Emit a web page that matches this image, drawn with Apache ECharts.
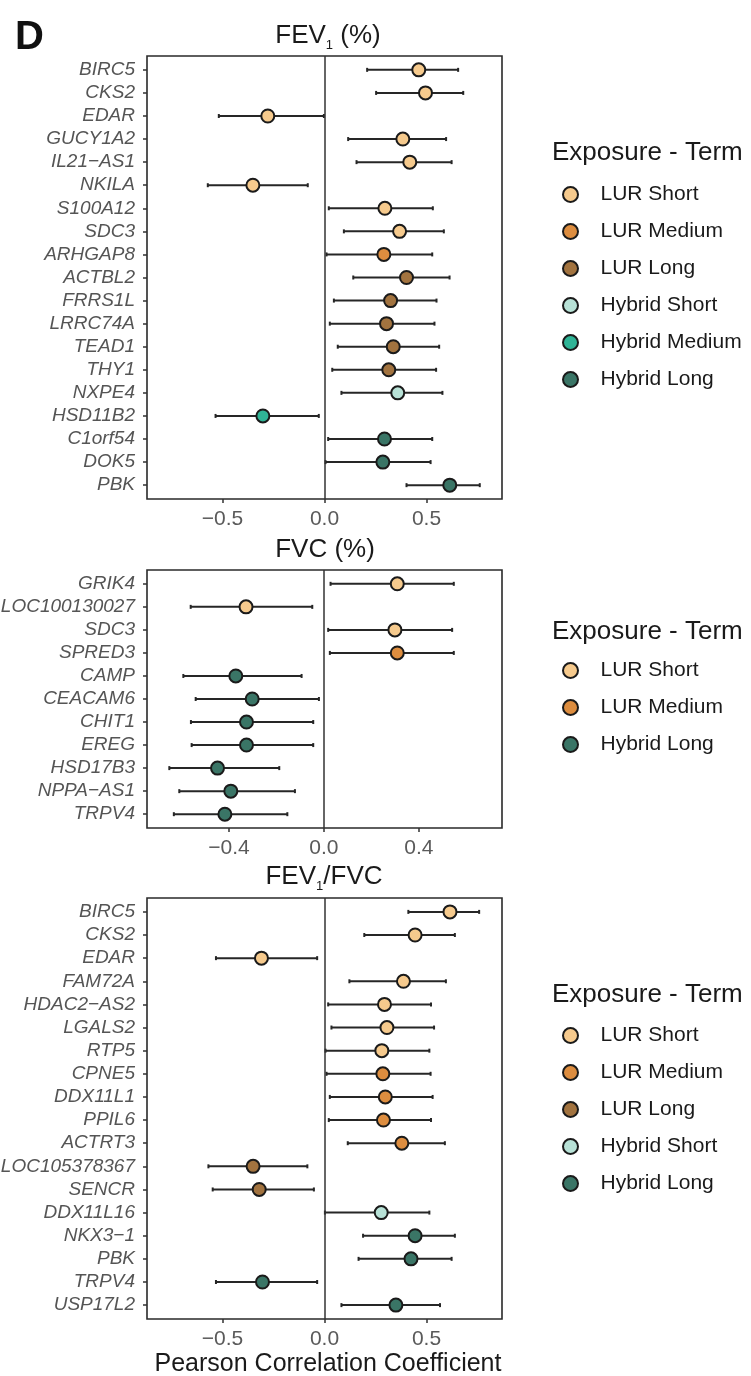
<!DOCTYPE html>
<html><head><meta charset="utf-8">
<script src="https://cdn.jsdelivr.net/npm/echarts@6/dist/echarts.min.js"></script>
<style>html,body{margin:0;padding:0;background:#fff}#c{width:751px;height:1376px}</style>
</head><body><div id="c"></div>
<script>
// ---------- data ----------
const groupNames = ['LUR Short','LUR Medium','LUR Long','Hybrid Short','Hybrid Medium','Hybrid Long'];
const groupColors = ['#F6CA8D','#DD8D3F','#A2733F','#B8E2D7','#2FB496','#3A7566'];

// Panel 1: FEV1 (%)
const fev1Genes = ['BIRC5','CKS2','EDAR','GUCY1A2','IL21\u2212AS1','NKILA','S100A12','SDC3','ARHGAP8','ACTBL2','FRRS1L','LRRC74A','TEAD1','THY1','NXPE4','HSD11B2','C1orf54','DOK5','PBK'];
const fev1Est = [0.462,0.495,-0.278,0.384,0.418,-0.351,0.296,0.368,0.291,0.402,0.324,0.304,0.337,0.315,0.359,-0.302,0.294,0.286,0.614];
const fev1Lo  = [0.209,0.253,-0.518,0.116,0.157,-0.572,0.021,0.095,0.010,0.141,0.046,0.026,0.065,0.038,0.083,-0.534,0.018,0.005,0.402];
const fev1Hi  = [0.655,0.680,-0.003,0.596,0.623,-0.082,0.531,0.585,0.528,0.613,0.549,0.539,0.562,0.547,0.578,-0.028,0.528,0.520,0.761];
const fev1Grp = ['LUR Short','LUR Short','LUR Short','LUR Short','LUR Short','LUR Short','LUR Short','LUR Short','LUR Medium','LUR Long','LUR Long','LUR Long','LUR Long','LUR Long','Hybrid Short','Hybrid Medium','Hybrid Long','Hybrid Long','Hybrid Long'];
const fev1Ticks = [-0.5,0,0.5];

// Panel 2: FVC (%)
const fvcGenes = ['GRIK4','LOC100130027','SDC3','SPRED3','CAMP','CEACAM6','CHIT1','EREG','HSD17B3','NPPA\u2212AS1','TRPV4'];
const fvcEst = [0.309,-0.328,0.299,0.309,-0.371,-0.302,-0.326,-0.326,-0.448,-0.392,-0.417];
const fvcLo  = [0.028,-0.561,0.018,0.025,-0.592,-0.540,-0.560,-0.557,-0.651,-0.609,-0.632];
const fvcHi  = [0.547,-0.049,0.540,0.547,-0.094,-0.021,-0.045,-0.045,-0.188,-0.122,-0.154];
const fvcGrp = ['LUR Short','LUR Short','LUR Short','LUR Medium','Hybrid Long','Hybrid Long','Hybrid Long','Hybrid Long','Hybrid Long','Hybrid Long','Hybrid Long'];
const fvcTicks = [-0.4,0,0.4];

// Panel 3: FEV1/FVC
const ratioGenes = ['BIRC5','CKS2','EDAR','FAM72A','HDAC2\u2212AS2','LGALS2','RTP5','CPNE5','DDX11L1','PPIL6','ACTRT3','LOC105378367','SENCR','DDX11L16','NKX3\u22121','PBK','TRPV4','USP17L2'];
const ratioEst = [0.615,0.444,-0.309,0.387,0.294,0.306,0.281,0.286,0.298,0.289,0.379,-0.350,-0.320,0.278,0.444,0.424,-0.304,0.350];
const ratioLo  = [0.411,0.195,-0.532,0.122,0.018,0.034,0.005,0.010,0.026,0.021,0.114,-0.569,-0.548,0.002,0.189,0.167,-0.532,0.083];
const ratioHi  = [0.758,0.639,-0.036,0.595,0.522,0.537,0.514,0.520,0.530,0.522,0.590,-0.084,-0.052,0.514,0.639,0.623,-0.036,0.566];
const ratioGrp = ['LUR Short','LUR Short','LUR Short','LUR Short','LUR Short','LUR Short','LUR Short','LUR Medium','LUR Medium','LUR Medium','LUR Medium','LUR Long','LUR Long','Hybrid Short','Hybrid Long','Hybrid Long','Hybrid Long','Hybrid Long'];
const ratioTicks = [-0.5,0,0.5];

// ---------- layout ----------
const panels = [
  {genes:fev1Genes, est:fev1Est, lo:fev1Lo, hi:fev1Hi, grp:fev1Grp, ticks:fev1Ticks, xmin:-0.87, xmax:0.87, grid:{left:147, top:56, width:355, height:443}},
  {genes:fvcGenes, est:fvcEst, lo:fvcLo, hi:fvcHi, grp:fvcGrp, ticks:fvcTicks, xmin:-0.745, xmax:0.75, grid:{left:147, top:570, width:355, height:258}},
  {genes:ratioGenes, est:ratioEst, lo:ratioLo, hi:ratioHi, grp:ratioGrp, ticks:ratioTicks, xmin:-0.87, xmax:0.87, grid:{left:147, top:898, width:355, height:421}}
];

const FONT = "'Liberation Sans', Arial, Helvetica, sans-serif";
const grids = [], xAxes = [], yAxes = [], series = [];
const fmtX = v => (v < 0 ? '\u2212' : '') + Math.abs(v).toFixed(1);

function renderErr(params, api) {
  const y = api.value(2);
  const a = api.coord([api.value(0), y]);
  const b = api.coord([api.value(1), y]);
  const st = {stroke:'#262626', lineWidth:2};
  return {type:'group', children:[
    {type:'line', shape:{x1:a[0], y1:a[1], x2:b[0], y2:b[1]}, style:st},
    {type:'line', shape:{x1:a[0], y1:a[1]-2, x2:a[0], y2:a[1]+2}, style:st},
    {type:'line', shape:{x1:b[0], y1:b[1]-2, x2:b[0], y2:b[1]+2}, style:st}
  ]};
}

panels.forEach((p, i) => {
  const n = p.genes.length;
  grids.push(Object.assign({show:true, borderColor:'#2a2a2a', borderWidth:1.6, backgroundColor:'#fff', containLabel:false, outerBoundsMode:'none'}, p.grid));
  xAxes.push({
    gridIndex:i, type:'value', min:p.xmin, max:p.xmax, position:'bottom',
    axisLine:{show:false, onZero:false}, splitLine:{show:false},
    axisTick:{show:true, customValues:p.ticks, length:4, lineStyle:{color:'#333', width:1.5}},
    axisLabel:{customValues:p.ticks, formatter:fmtX, color:'#5a5a5a', fontSize:21, fontFamily:FONT, margin:10}
  });
  const idx = p.genes.map((g, k) => k);
  yAxes.push({
    gridIndex:i, type:'value', inverse:true, min:-0.6, max:n - 1 + 0.6, position:'left',
    axisLine:{show:false, onZero:false}, splitLine:{show:false},
    axisTick:{show:true, customValues:idx, length:4, lineStyle:{color:'#333', width:1.5}},
    axisLabel:{customValues:idx, formatter:v => p.genes[Math.round(v)], color:'#555', fontSize:19, fontStyle:'italic', fontFamily:FONT, margin:12}
  });
  series.push({
    type:'custom', xAxisIndex:i, yAxisIndex:i, renderItem:renderErr, silent:true, z:3,
    encode:{x:[0,1], y:2},
    data:p.genes.map((g, k) => [p.lo[k], p.hi[k], k]),
    markLine:{silent:true, symbol:'none', label:{show:false}, animation:false,
      lineStyle:{color:'#333', width:1.5, type:'solid'}, data:[{xAxis:0}]}
  });
  groupNames.forEach((gn, gi) => {
    const d = [];
    p.genes.forEach((g, k) => { if (p.grp[k] === gn) d.push([p.est[k], k]); });
    if (!d.length) return;
    series.push({
      name:gn, type:'scatter', xAxisIndex:i, yAxisIndex:i, z:5, symbol:'circle', symbolSize:13,
      itemStyle:{color:groupColors[gi], borderColor:'#1a1a1a', borderWidth:2, opacity:1},
      data:d
    });
  });
});

const legendBase = {orient:'vertical', icon:'circle', itemWidth:40, itemHeight:15, itemGap:16, padding:0,
  selectedMode:false, textStyle:{fontSize:21, color:'#1a1a1a', fontFamily:FONT, padding:[0,0,0,5]}};
const legends = [
  Object.assign({left:562, top:184, data:['LUR Short','LUR Medium','LUR Long','Hybrid Short','Hybrid Medium','Hybrid Long']}, legendBase),
  Object.assign({left:562, top:660, data:['LUR Short','LUR Medium','Hybrid Long']}, legendBase),
  Object.assign({left:562, top:1025, data:['LUR Short','LUR Medium','LUR Long','Hybrid Short','Hybrid Long']}, legendBase)
];

const titleRich = {
  b:{fontSize:26, fontFamily:FONT, fill:'#1a1a1a'},
  s:{fontSize:13, fontFamily:FONT, fill:'#1a1a1a', padding:[18,0,0,0]}
};
function txt(x, y, text, size, opts) {
  return {type:'text', x:x, y:y, z:100, style:Object.assign({text:text, fontSize:size, fontFamily:FONT, fill:'#1a1a1a', align:'center', verticalAlign:'middle'}, opts || {})};
}
const graphics = [
  txt(15, 38, 'D', 40, {fontWeight:'bold', align:'left', fill:'#111'}),
  {type:'text', x:328, y:36, z:100, style:{text:'{b|FEV}{s|1}{b| (%)}', rich:titleRich, align:'center', verticalAlign:'middle', fontFamily:FONT}},
  txt(325, 550, 'FVC (%)', 26),
  {type:'text', x:324, y:877, z:100, style:{text:'{b|FEV}{s|1}{b|/FVC}', rich:titleRich, align:'center', verticalAlign:'middle', fontFamily:FONT}},
  txt(552, 153, 'Exposure - Term', 26, {align:'left'}),
  txt(552, 632, 'Exposure - Term', 26, {align:'left'}),
  txt(552, 995, 'Exposure - Term', 26, {align:'left'}),
  txt(328, 1364, 'Pearson Correlation Coefficient', 25)
];

const chart = echarts.init(document.getElementById('c'), null, {renderer:'canvas'});
chart.setOption({
  animation:false,
  backgroundColor:'#fff',
  grid:grids, xAxis:xAxes, yAxis:yAxes, series:series, legend:legends, graphic:graphics
});
</script></body></html>
